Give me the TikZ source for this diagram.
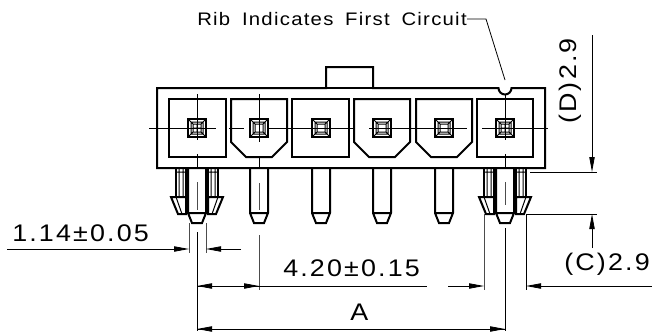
\documentclass[tikz,border=0pt]{standalone}
\usepackage{fontspec}
\usepackage{tikz}
\usetikzlibrary{arrows.meta}
\setmainfont{Liberation Sans}
\newfontfamily\dimfont[FakeStretch=1.12,LetterSpace=9]{Liberation Sans}
\newfontfamily\ribfont[FakeStretch=1.12,LetterSpace=7,WordSpace=1.7]{Liberation Sans}

\begin{document}
\begin{tikzpicture}[x=0.75pt,y=0.75pt,yscale=-1,xscale=1,
  body/.style={line width=1.5pt,line join=miter},
  inner/.style={line width=0.75pt},
  thin/.style={line width=0.6pt},
  center/.style={line width=0.6pt,black!70},
  dim/.style={line width=0.6pt,-{Stealth[length=11.25pt,width=4pt,inset=0pt]}},
  label/.style={inner sep=0pt,font=\dimfont\fontsize{18pt}{18pt}\selectfont}]
\useasboundingbox (0,0) rectangle (652,332);

%Shape: housing with tab and rib
\draw [body] (157,88) -- (326,88) -- (326,67) -- (373,67) -- (373,88) -- (498.5,88) arc (180:0:6.5) -- (545,88) -- (545,168) -- (157,168) -- cycle ;
\draw [body] (326,88) -- (373,88) ;

%Shape: cavities
\draw [body] (169,99) rectangle (226,157) ;
\draw [body] (231,99) -- (287,99) -- (287,142) -- (272,157) -- (246,157) -- (231,142) -- cycle ;
\draw [body] (292,99) rectangle (349,157) ;
\draw [body] (354,99) -- (410,99) -- (410,142) -- (395,157) -- (369,157) -- (354,142) -- cycle ;
\draw [body] (416,99) -- (472,99) -- (472,142) -- (457,157) -- (431,157) -- (416,142) -- cycle ;
\draw [body] (477,99) rectangle (533,157) ;

%Shape: terminal squares
\draw [body] (188,119) rectangle (206,137) ;
\draw [inner] (191,122) rectangle (203,134) (193,124) rectangle (201,132) (188,119) -- (193,124) (206,119) -- (201,124) (188,137) -- (193,132) (206,137) -- (201,132) (197,124) -- (197,132) (193,128) -- (201,128) ;
\draw [body] (250,119) rectangle (268,137) ;
\draw [inner] (253,122) rectangle (265,134) (255,124) rectangle (263,132) (250,119) -- (255,124) (268,119) -- (263,124) (250,137) -- (255,132) (268,137) -- (263,132) ;
\draw [body] (312,119) rectangle (330,137) ;
\draw [inner] (315,122) rectangle (327,134) (317,124) rectangle (325,132) (312,119) -- (317,124) (330,119) -- (325,124) (312,137) -- (317,132) (330,137) -- (325,132) ;
\draw [body] (373,119) rectangle (391,137) ;
\draw [inner] (376,122) rectangle (388,134) (378,124) rectangle (386,132) (373,119) -- (378,124) (391,119) -- (386,124) (373,137) -- (378,132) (391,137) -- (386,132) ;
\draw [body] (435,119) rectangle (453,137) ;
\draw [inner] (438,122) rectangle (450,134) (440,124) rectangle (448,132) (435,119) -- (440,124) (453,119) -- (448,124) (435,137) -- (440,132) (453,137) -- (448,132) ;
\draw [body] (496,119) rectangle (514,137) ;
\draw [inner] (499,122) rectangle (511,134) (501,124) rectangle (509,132) (496,119) -- (501,124) (514,119) -- (509,124) (496,137) -- (501,132) (514,137) -- (509,132) (505,124) -- (505,132) (501,128) -- (509,128) ;

%Straight Lines: centre lines of the cavities
\draw [thin] (149,128) -- (216,128) (229,128) -- (244,128) (268,128) -- (355,128) (369,128) -- (467,128) (482,128) -- (548,128) ;
\draw [thin] (197,94) -- (197,140) (197,154) -- (197,168) (259,94) -- (259,142) (259,158) -- (259,168) (505,94) -- (505,140) (505,154) -- (505,168) ;

%Shape: plain pins
\draw [body] (250,168) -- (250,213) -- (254,223) -- (264,223) -- (268,213) -- (268,168) (250,213) -- (268,213) ;
\draw [body] (312,168) -- (312,213) -- (316,223) -- (326,223) -- (330,213) -- (330,168) (312,213) -- (330,213) ;
\draw [body] (373,168) -- (373,213) -- (377,223) -- (387,223) -- (391,213) -- (391,168) (373,213) -- (391,213) ;
\draw [body] (435,168) -- (435,213) -- (439,223) -- (449,223) -- (453,213) -- (453,168) (435,213) -- (453,213) ;

%Shape: first pin with its latches
\draw [body] (188,168) -- (188,213) -- (192,223) -- (202,223) -- (206,213) -- (206,168) (188,213) -- (206,213) ;
\draw [body] (176,168) -- (176,197) (186,168) -- (186,197) (208,168) -- (208,197) (218,168) -- (218,197) ;
\draw [body] (171,197) -- (186,197) -- (186,214) -- (178,214) -- cycle (223,197) -- (208,197) -- (208,214) -- (216,214) -- cycle ;
\draw [inner] (176,172) -- (186,172) (179,168) -- (179,197) (183,168) -- (183,197) (208,172) -- (218,172) (211,168) -- (211,197) (215,168) -- (215,197) (176,197) -- (182,214) (218,197) -- (212,214) ;

%Shape: last pin with its latches
\draw [body] (496,168) -- (496,213) -- (500,223) -- (510,223) -- (514,213) -- (514,168) (496,213) -- (514,213) ;
\draw [body] (484,168) -- (484,197) (494,168) -- (494,197) (516,168) -- (516,197) (526,168) -- (526,197) ;
\draw [body] (479,197) -- (494,197) -- (494,214) -- (486,214) -- cycle (531,197) -- (516,197) -- (516,214) -- (524,214) -- cycle ;
\draw [inner] (484,172) -- (494,172) (487,168) -- (487,197) (491,168) -- (491,197) (516,172) -- (526,172) (519,168) -- (519,197) (523,168) -- (523,197) (484,197) -- (490,214) (526,197) -- (520,214) ;

%Straight Lines: centre and extension lines below the pins
\draw [center] (197,182) -- (197,210) (259,183) -- (259,210) (505,182) -- (505,205) ;
\draw [center] (189,223) -- (189,253) (206,223) -- (206,253) (259,235) -- (259,290) (484,214) -- (484,290) ;
\draw [thin] (197,232) -- (197,331) (505,228) -- (505,331) (526,214) -- (526,290) ;
\draw [thin] (530,172) -- (597,172) (526,214) -- (597,214) ;

% Text Node
\draw (197,12) node (ribtext) [anchor=north west][inner sep=0pt][font=\ribfont\fontsize{13.6pt}{14pt}\selectfont] {Rib Indicates First Circuit};
\coordinate (ribelbow) at (486,19);
\coordinate (ribtop) at (505,80);
\draw [thin] (467,19) -- (ribelbow) -- (ribtop) ;

%Straight Lines: dimension arrows
\draw [dim] (7,249) -- (189,249) ;
\draw [dim] (241,249) -- (206,249) ;
\draw [dim] (259,286) -- (197,286) ;
\draw [dim] (197,286) -- (259,286) ;
\draw [thin] (259,286) -- (427,286) ;
\draw [dim] (505,329) -- (197,329) ;
\draw [dim] (197,329) -- (505,329) ;
\draw [dim] (448,286) -- (484,286) ;
\draw [dim] (652,286) -- (526,286) ;
\draw [dim] (592,35) -- (592,172) ;
\draw [dim] (592,248) -- (592,214) ;

% Text Node
\draw (12,224) node (width114) [anchor=north west][label] {1.14±0.05};
% Text Node
\draw (283,259) node (pitch420) [anchor=north west][label] {4.20±0.15};
% Text Node
\draw (350,304) node (dimA) [anchor=north west][label] {A};
% Text Node
\draw (607,264) node (dimC) [label] {(C)2.9};
% Text Node
\draw (570,81) node (dimD) [label][rotate=90] {(D)2.9};

\end{tikzpicture}
\end{document}
